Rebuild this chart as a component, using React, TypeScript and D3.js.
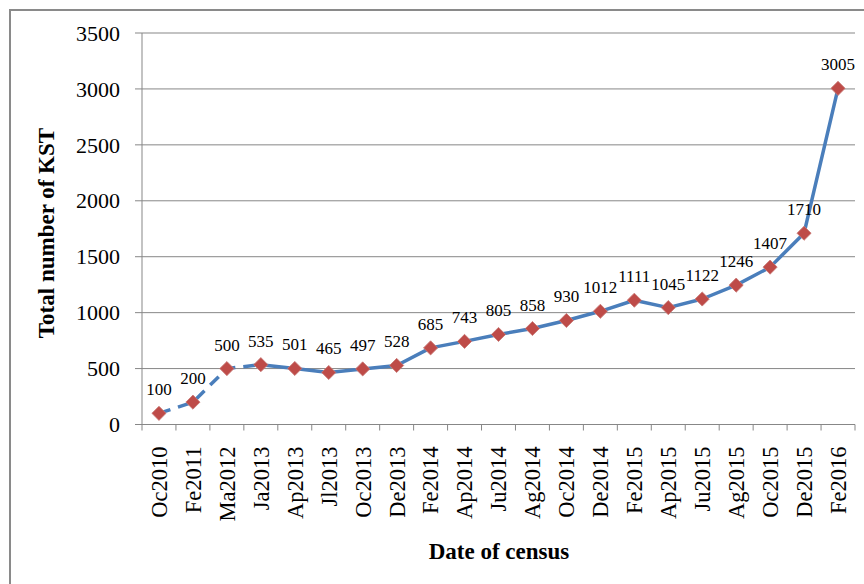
import * as d3 from "d3";
import React, { useEffect, useRef } from "react";

// census dates (x axis) and KST totals
const CENSUS_DATES = [
  "Oc2010", "Fe2011", "Ma2012", "Ja2013", "Ap2013", "Jl2013", "Oc2013",
  "De2013", "Fe2014", "Ap2014", "Ju2014", "Ag2014", "Oc2014", "De2014",
  "Fe2015", "Ap2015", "Ju2015", "Ag2015", "Oc2015", "De2015", "Fe2016",
];
const KST_TOTALS = [
  100, 200, 500, 535, 501, 465, 497, 528, 685, 743, 805, 858, 930, 1012,
  1111, 1045, 1122, 1246, 1407, 1710, 3005,
];
const Y_TICKS = [0, 500, 1000, 1500, 2000, 2500, 3000, 3500];
// the first segments are drawn dashed, up to this category
const DASHED_UNTIL = "Ja2013";

const FONT = "'Liberation Serif', 'Times New Roman', serif";

function drawChart(el: SVGSVGElement) {
  const svg = d3.select(el);
  svg.selectAll("*").remove();

  const left = 142, right = 855, top = 33, bottom = 424.5;

  const x = d3.scaleBand().domain(CENSUS_DATES).range([left, right]).padding(0);
  const y = d3.scaleLinear().domain([0, 3500]).range([bottom, top]);
  const cx = (d: string) => (x(d) as number) + x.bandwidth() / 2;

  const data = CENSUS_DATES.map((d, i) => ({ date: d, value: KST_TOTALS[i] }));

  // outer frame (only top and left edges fall inside the picture)
  svg.append("rect")
    .attr("x", 10).attr("y", 10)
    .attr("width", 900).attr("height", 640)
    .attr("fill", "none")
    .attr("stroke", "#8a8a8a")
    .attr("stroke-width", 2);

  // gridlines
  svg.append("g")
    .selectAll("line")
    .data(Y_TICKS.filter(t => t > 0))
    .join("line")
    .attr("x1", left - 7).attr("x2", right)
    .attr("y1", d => y(d)).attr("y2", d => y(d))
    .attr("stroke", "#878787")
    .attr("stroke-width", 1);

  // y axis
  svg.append("line")
    .attr("x1", left).attr("x2", left)
    .attr("y1", top).attr("y2", bottom)
    .attr("stroke", "#878787");
  svg.append("line")
    .attr("x1", left - 7).attr("x2", left)
    .attr("y1", bottom).attr("y2", bottom)
    .attr("stroke", "#878787");

  svg.append("g")
    .selectAll("text")
    .data(Y_TICKS)
    .join("text")
    .attr("x", 120)
    .attr("y", d => y(d))
    .attr("dy", "0.35em")
    .attr("text-anchor", "end")
    .style("font-family", FONT)
    .style("font-size", "22px")
    .text(d => d);

  // x axis
  svg.append("line")
    .attr("x1", left).attr("x2", right)
    .attr("y1", bottom).attr("y2", bottom)
    .attr("stroke", "#878787");
  const tickPos = CENSUS_DATES.map(d => x(d) as number).concat([right]);
  svg.append("g")
    .selectAll("line")
    .data(tickPos)
    .join("line")
    .attr("x1", d => d).attr("x2", d => d)
    .attr("y1", bottom).attr("y2", bottom + 6)
    .attr("stroke", "#878787");

  svg.append("g")
    .selectAll("text")
    .data(CENSUS_DATES)
    .join("text")
    .attr("transform", d => `translate(${cx(d)},${bottom + 22}) rotate(-90)`)
    .attr("dy", "0.35em")
    .attr("text-anchor", "end")
    .style("font-family", FONT)
    .style("font-size", "22.5px")
    .text(d => d);

  // series line: dashed start, solid rest
  const line = d3.line<{ date: string; value: number }>()
    .x(d => cx(d.date))
    .y(d => y(d.value));
  const cut = CENSUS_DATES.indexOf(DASHED_UNTIL);

  svg.append("path")
    .datum(data.slice(0, cut + 1))
    .attr("d", line)
    .attr("fill", "none")
    .attr("stroke", "#4a7ebb")
    .attr("stroke-width", 3.5)
    .attr("stroke-dasharray", "12,8");
  svg.append("path")
    .datum(data.slice(cut))
    .attr("d", line)
    .attr("fill", "none")
    .attr("stroke", "#4a7ebb")
    .attr("stroke-width", 3.5)
    .attr("stroke-linejoin", "round");

  // diamond markers
  const diamond = d3.symbol().type(d3.symbolSquare).size(100);
  svg.append("g")
    .selectAll("path")
    .data(data)
    .join("path")
    .attr("d", diamond)
    .attr("transform", d => `translate(${cx(d.date)},${y(d.value)}) rotate(45)`)
    .attr("fill", "#be4b48")
    .attr("stroke", "#c87875")
    .attr("stroke-width", 0.8);

  // value labels
  svg.append("g")
    .selectAll("text")
    .data(data)
    .join("text")
    .attr("x", d => cx(d.date))
    .attr("y", d => y(d.value) - 18)
    .attr("text-anchor", "middle")
    .style("font-family", FONT)
    .style("font-size", "17px")
    .text(d => d.value);

  // axis titles
  svg.append("text")
    .attr("transform", `translate(54,${233}) rotate(-90)`)
    .attr("text-anchor", "middle")
    .style("font-family", FONT)
    .style("font-size", "23px")
    .style("font-weight", "bold")
    .text("Total number of KST");

  svg.append("text")
    .attr("x", 499)
    .attr("y", 559)
    .attr("text-anchor", "middle")
    .style("font-family", FONT)
    .style("font-size", "23px")
    .style("font-weight", "bold")
    .text("Date of census");
}

export default function App() {
  const ref = useRef<SVGSVGElement>(null);

  useEffect(() => {
    if (ref.current) drawChart(ref.current);
  }, []);

  return (
    <svg
      ref={ref}
      width={864}
      height={584}
      style={{ position: "absolute", left: 0, top: 0, background: "#fff" }}
    />
  );
}
